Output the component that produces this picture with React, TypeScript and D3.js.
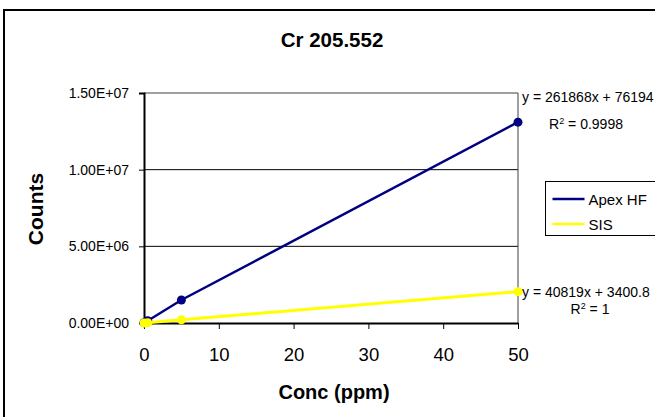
import React, { useEffect, useRef } from 'react';
import * as d3 from 'd3';

// calibration data
const conc = [0, 0.5, 5, 50];
const apexHF = [20000, 150000, 1500000, 13100000];
const sis = [3400, 23800, 207500, 2044300];
const xTicks = [0, 10, 20, 30, 40, 50];
const yTicks = [0, 5e6, 1e7, 1.5e7];
const yTickLabels = ['0.00E+00', '5.00E+06', '1.00E+07', '1.50E+07'];
const seriesNames = ['Apex HF', 'SIS'];
const seriesColors = ['#000080', '#ffff00'];
const eqLabels = [
  ['y = 261868x + 76194', '0.9998'],
  ['y = 40819x + 3400.8', '1'],
];

function App() {
  const ref = useRef<SVGSVGElement>(null);

  useEffect(() => {
    const width = 655;
    const height = 417;
    const margin = { top: 93, right: 137, bottom: 94, left: 144 };
    const svg = d3.select(ref.current);
    svg.selectAll('*').remove();
    svg.attr('font-family', 'Arial, "Liberation Sans", sans-serif');

    // outer chart frame
    svg.append('rect')
      .attr('x', 4).attr('y', 10)
      .attr('width', 660).attr('height', 420)
      .attr('fill', 'white').attr('stroke', 'black').attr('stroke-width', 2);

    const x = d3.scaleLinear().domain([0, 50]).range([margin.left, width - margin.right]);
    const y = d3.scaleLinear().domain([0, 1.5e7]).range([height - margin.bottom, margin.top]);

    // gridlines
    svg.append('g')
      .selectAll('line')
      .data(yTicks.slice(1, 3))
      .join('line')
      .attr('x1', x(0)).attr('x2', x(50))
      .attr('y1', d => y(d)).attr('y2', d => y(d))
      .attr('stroke', 'black').attr('stroke-width', 1);

    // plot frame top/right
    svg.append('path')
      .attr('d', `M${x(0)},${y(1.5e7)}H${x(50)}V${y(0)}`)
      .attr('fill', 'none').attr('stroke', '#404040').attr('stroke-width', 1);

    // y axis
    const yAxis = svg.append('g')
      .attr('transform', `translate(${x(0)},0)`)
      .call(d3.axisLeft(y).tickValues(yTicks).tickFormat((_, i) => yTickLabels[i]).tickSize(5).tickPadding(10));
    yAxis.select('.domain').attr('stroke-width', 2);
    yAxis.selectAll('text').attr('font-size', 14).attr('font-family', null).attr('fill', 'black');

    // x axis
    const xAxis = svg.append('g')
      .attr('transform', `translate(0,${y(0)})`)
      .call(d3.axisBottom(x).tickValues(xTicks).tickSize(6).tickPadding(19).tickSizeOuter(0));
    xAxis.select('.domain').attr('stroke-width', 2);
    xAxis.selectAll('text').attr('font-size', 18.5).attr('font-family', null).attr('fill', 'black');

    const line = d3.line<number>().x((_, i) => x(conc[i])).y(d => y(d));
    [apexHF, sis].forEach((vals, k) => {
      const g = svg.append('g');
      g.append('path')
        .attr('d', line(vals))
        .attr('fill', 'none')
        .attr('stroke', seriesColors[k])
        .attr('stroke-width', k === 0 ? 2.5 : 3);
      g.selectAll('circle')
        .data(vals)
        .join('circle')
        .attr('cx', (_, i) => x(conc[i]))
        .attr('cy', d => y(d))
        .attr('r', 4.5)
        .attr('fill', seriesColors[k]);
    });

    // trendline equations
    eqLabels.forEach(([eq, r2], k) => {
      const vals = k === 0 ? apexHF : sis;
      const ty = y(vals[vals.length - 1]);
      const t = svg.append('g').attr('font-size', 14).attr('fill', 'black');
      t.append('text')
        .attr('x', x(50) + 4).attr('y', ty + (k === 0 ? -20 : 5))
        .text(eq);
      const r = t.append('text')
        .attr('text-anchor', 'middle')
        .attr('x', k === 0 ? 586 : 590).attr('y', ty + (k === 0 ? 7 : 22));
      r.append('tspan').text('R');
      r.append('tspan').attr('font-size', 9).attr('dy', -5).text('2');
      r.append('tspan').attr('dy', 5).text(` = ${r2}`);
    });

    // legend
    const lg = svg.append('g').attr('transform', 'translate(545.5,181.5)');
    lg.append('rect').attr('width', 112).attr('height', 54)
      .attr('fill', 'white').attr('stroke', 'black').attr('stroke-width', 1);
    seriesNames.forEach((name, i) => {
      const ly = 17.5 + i * 25;
      lg.append('line').attr('x1', 7).attr('x2', 39).attr('y1', ly).attr('y2', ly)
        .attr('stroke', seriesColors[i]).attr('stroke-width', 2.5);
      lg.append('text').attr('x', 43).attr('y', ly + 5.5)
        .attr('font-size', 15).text(name);
    });

    // titles
    svg.append('text')
      .attr('x', 332).attr('y', 47).attr('text-anchor', 'middle')
      .attr('font-size', 20.5).attr('font-weight', 'bold').text('Cr 205.552');
    svg.append('text')
      .attr('x', 334).attr('y', 399).attr('text-anchor', 'middle')
      .attr('font-size', 20).attr('font-weight', 'bold').text('Conc (ppm)');
    svg.append('text')
      .attr('transform', 'translate(43,209) rotate(-90)')
      .attr('text-anchor', 'middle')
      .attr('font-size', 21).attr('font-weight', 'bold').text('Counts');
  }, []);

  return (
    <svg ref={ref} width={655} height={417}
      style={{ position: 'absolute', left: 0, top: 0, background: 'white' }} />
  );
}

export default App;
